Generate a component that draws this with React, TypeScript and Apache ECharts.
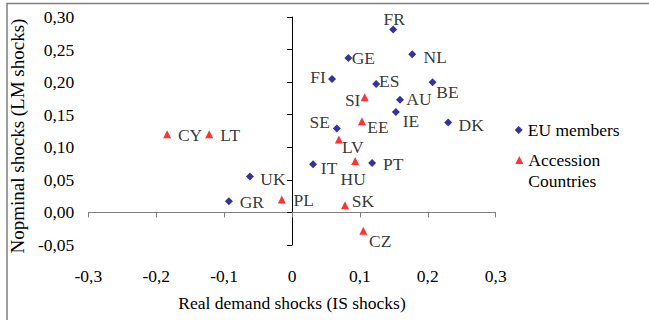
import React, { useEffect, useRef } from "react";
import * as echarts from "echarts";

// EU member states: real demand (IS) vs nominal (LM) shock correlations
const euNames = ["FR", "GE", "NL", "FI", "ES", "BE", "AU", "IE", "DK", "SE", "IT", "PT", "UK", "GR"];
const euX = [0.149, 0.083, 0.177, 0.059, 0.124, 0.207, 0.159, 0.153, 0.23, 0.066, 0.031, 0.118, -0.062, -0.093];
const euY = [0.281, 0.237, 0.243, 0.205, 0.197, 0.2, 0.173, 0.154, 0.138, 0.129, 0.074, 0.076, 0.055, 0.017];

// Accession countries
const accNames = ["SI", "EE", "LV", "HU", "SK", "CZ", "PL", "CY", "LT"];
const accX = [0.107, 0.103, 0.069, 0.093, 0.078, 0.105, -0.015, -0.184, -0.122];
const accY = [0.177, 0.14, 0.112, 0.079, 0.011, -0.028, 0.02, 0.12, 0.12];

const xTicks = { min: -0.3, max: 0.3, step: 0.1 };
const yTicks = { min: -0.05, max: 0.3, step: 0.05 };

// label offsets (px) from each marker's centre
const labelOffsets: Record<string, [number, number]> = {
  FR: [1, -10], GE: [15, 0], NL: [23, 3], FI: [-14, -2], ES: [13, -3], BE: [15, 10],
  AU: [19, -1], IE: [15, 9], DK: [23, 2], SE: [-17, -6], IT: [16, 4], PT: [21, 1],
  UK: [23, 2], GR: [23, 1],
  SI: [-12, 3], EE: [16, 6], LV: [14, 8], HU: [-2, 18], SK: [18, -4], CZ: [17, 10],
  PL: [22, 1], CY: [23, 1], LT: [21, 1],
};

const FONT = "Liberation Serif";

const fmtX = (v: number) => (Math.abs(v) < 1e-9 ? "0" : v.toFixed(1).replace(".", ","));
const fmtY = (v: number) => (Math.abs(v) < 1e-9 ? "0,00" : v.toFixed(2).replace(".", ","));

function points(names: string[], xs: number[], ys: number[]) {
  return names.map((n, i) => ({
    name: n,
    value: [xs[i], ys[i]],
    label: { offset: labelOffsets[n] || [15, 0] },
  }));
}

export default function App() {
  const ref = useRef<HTMLDivElement>(null);

  useEffect(() => {
    if (!ref.current) return;
    const chart = echarts.init(ref.current, undefined, { renderer: "svg" });

    const text = { fontFamily: FONT, fontSize: 17.5, color: "#000" };
    const label = {
      show: true,
      position: "inside",
      align: "center",
      verticalAlign: "middle",
      formatter: (p: any) => p.name,
      ...text,
    };

    chart.setOption({
      animation: false,
      backgroundColor: "#fff",
      textStyle: { fontFamily: FONT },
      grid: { left: 87.3, right: 153.3, top: 17, bottom: 75, containLabel: false },
      xAxis: [
        {
          type: "value",
          min: xTicks.min,
          max: xTicks.max,
          interval: xTicks.step,
          axisLine: { onZero: true, onZeroAxisIndex: 0, lineStyle: { color: "#808080", width: 1 } },
          axisTick: { show: true, length: 5, lineStyle: { color: "#808080" } },
          axisLabel: { show: false },
          splitLine: { show: false },
        },
        {
          type: "value",
          position: "bottom",
          min: xTicks.min,
          max: xTicks.max,
          interval: xTicks.step,
          axisLine: { show: false, onZero: false },
          axisTick: { show: false },
          axisLabel: { margin: 22, formatter: fmtX, ...text },
          splitLine: { show: false },
          name: "Real demand shocks (IS shocks)",
          nameLocation: "middle",
          nameGap: 49,
          nameTextStyle: text,
        },
      ],
      yAxis: [
        {
          type: "value",
          min: yTicks.min,
          max: yTicks.max,
          interval: yTicks.step,
          axisLine: { show: true, onZero: true, onZeroAxisIndex: 0, lineStyle: { color: "#000", width: 1 } },
          axisTick: { show: true, length: 5, lineStyle: { color: "#000" } },
          axisLabel: { show: false },
          splitLine: { show: false },
        },
        {
          type: "value",
          position: "left",
          min: yTicks.min,
          max: yTicks.max,
          interval: yTicks.step,
          axisLine: { show: false, onZero: false },
          axisTick: { show: false },
          axisLabel: { margin: 14, formatter: fmtY, ...text },
          splitLine: { show: false },
          name: "Nopminal shocks (LM shocks)",
          nameLocation: "middle",
          nameGap: 44,
          nameTextStyle: { ...text, fontSize: 19, padding: [0, 10, 0, 0] },
        },
      ],
      legend: [
        {
          data: ["EU members"],
          left: 514.7,
          top: 121,
          padding: 0,
          itemWidth: 8,
          itemHeight: 8,
          itemGap: 0,
          textStyle: text,
        },
        {
          data: ["Accession Countries"],
          left: 515.3,
          top: 128.5,
          padding: 0,
          itemWidth: 8,
          itemHeight: 8,
          itemGap: 0,
          // blank first line keeps "Accession" level with the icon
          formatter: () => "\nAccession\nCountries",
          textStyle: { ...text, lineHeight: 21 },
        },
      ],
      graphic: [
        {
          type: "rect",
          left: 4.5,
          top: 1,
          shape: { width: 660, height: 317.5 },
          style: { fill: "none", stroke: "#7f7f7f", lineWidth: 1.5 },
          silent: true,
        },
      ],
      series: [
        {
          name: "EU members",
          type: "scatter",
          symbol: "diamond",
          symbolSize: 8,
          itemStyle: { color: "#000080" },
          label,
          data: points(euNames, euX, euY),
        },
        {
          name: "Accession Countries",
          type: "scatter",
          symbol: "triangle",
          symbolSize: 8,
          itemStyle: { color: "#ff0000" },
          label,
          data: points(accNames, accX, accY),
        },
      ],
    });

    return () => chart.dispose();
  }, []);

  return (
    <div
      ref={ref}
      style={{ position: "absolute", left: 0, top: 0, width: 649, height: 320 }}
    />
  );
}
